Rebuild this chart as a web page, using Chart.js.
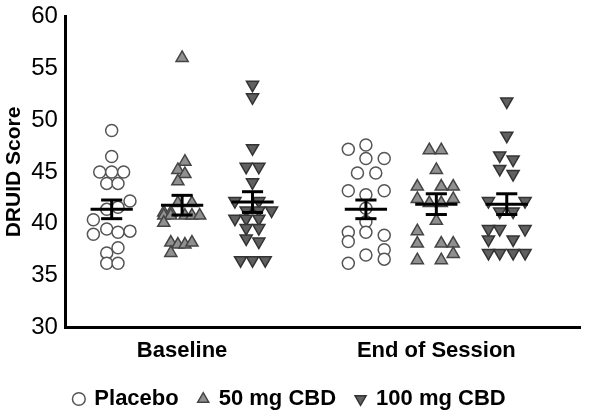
<!DOCTYPE html>
<html><head><meta charset="utf-8">
<script src="https://cdn.jsdelivr.net/npm/chart.js@4"></script>
<style>html,body{margin:0;padding:0;background:#fff}#w{width:594px;height:420px}</style>
</head><body><div id="w"><canvas id="c"></canvas></div>
<script>
const categories = ["Baseline", "End of Session"];
const categoryPos = [1.65, 5.26];
const groupOffset = [-1, 0, 1];
const seriesNames = ["Placebo", "50 mg CBD", "100 mg CBD"];
const yTicks = [30, 35, 40, 45, 50, 55, 60];

const placeboBase = [49.0,46.5,45.0,45.0,45.0,43.9,43.9,42.2,41.4,41.6,40.4,39.0,39.5,39.2,39.3,37.7,37.2,36.2,36.2];
const placeboBaseJ = [0,0,-0.17,0,0.17,-0.07,0.09,0.26,-0.07,0.09,-0.26,-0.26,-0.07,0.09,0.26,0.09,-0.07,-0.07,0.09];
const cbd50Base = [56.0,46.0,45.2,44.8,44.1,42.0,42.0,41.1,41.1,40.8,40.8,40.8,40.8,40.8,40.1,38.2,38.0,38.0,38.2,37.2];
const cbd50BaseJ = [0,0.04,-0.06,0.04,-0.06,-0.06,0.14,-0.26,-0.16,-0.26,-0.16,0.04,0.14,0.25,-0.26,-0.16,-0.06,0.04,0.14,-0.16];
const cbd100Base = [53.4,52.2,47.3,45.5,45.5,44.0,42.2,42.2,41.3,41.3,41.3,40.5,40.5,40.5,39.6,39.6,38.6,38.3,36.5,36.5,36.5];
const cbd100BaseJ = [0,0,0,-0.09,0.09,0,-0.25,0.09,-0.09,0.09,0.27,-0.25,-0.09,0.09,-0.09,0.09,-0.09,0.09,-0.17,0,0.18];
const placeboEnd = [47.2,47.6,46.3,46.3,44.9,44.9,43.2,42.8,43.2,41.5,40.2,39.2,39.2,38.9,38.3,37.0,37.5,36.6,36.2];
const placeboEndJ = [-0.25,0,0,0.26,-0.12,0.14,-0.25,0,0.26,0,0,-0.25,0,0.26,-0.25,0,0.26,0.26,-0.25];
const cbd50End = [47.1,47.1,45.2,43.6,43.6,43.6,42.4,42.4,42.0,42.0,40.3,39.3,38.1,38.1,38.1,37.1,36.5,36.5];
const cbd50EndJ = [-0.1,0.07,0,-0.27,0.07,0.24,-0.27,0.24,-0.1,0.07,0,-0.27,-0.27,0.07,0.24,0.24,-0.27,0.07];
const cbd100End = [51.8,48.5,46.6,46.2,45.3,44.8,42.2,42.2,41.2,41.2,39.5,39.5,39.5,38.5,38.5,37.2,37.2,37.2,37.2];
const cbd100EndJ = [0,0,-0.1,0.09,-0.1,0.09,-0.26,0.26,-0.1,0.09,-0.26,-0.1,0.26,-0.26,0.09,-0.26,-0.1,0.09,0.26];

const means = [[41.4, 41.8, 42.1], [41.4, 41.9, 41.9]];
const sems  = [[0.9, 0.95, 1.0], [0.9, 1.0, 1.0]];

const vals = [[placeboBase, cbd50Base, cbd100Base], [placeboEnd, cbd50End, cbd100End]];
const jits = [[placeboBaseJ, cbd50BaseJ, cbd100BaseJ], [placeboEndJ, cbd50EndJ, cbd100EndJ]];

const styles = [
  {pointStyle:'circle', backgroundColor:'#ffffff', borderColor:'#555', rotation:0, radius:6},
  {pointStyle:'triangle', backgroundColor:'#909090', borderColor:'#444', rotation:0, radius:7},
  {pointStyle:'triangle', backgroundColor:'#606060', borderColor:'#333', rotation:180, radius:7}
];

const datasets = seriesNames.map((name, s) => {
  const data = [];
  categories.forEach((c, ci) => {
    vals[ci][s].forEach((v, i) => data.push({x: categoryPos[ci] + groupOffset[s] + jits[ci][s][i], y: v}));
  });
  return {label: name, data, pointStyle: styles[s].pointStyle, backgroundColor: styles[s].backgroundColor,
    borderColor: styles[s].borderColor, borderWidth: 1.5, pointRadius: styles[s].radius, rotation: styles[s].rotation};
});

const errPlugin = {
  id: 'err',
  afterDatasetsDraw(chart) {
    const {ctx, scales: {x, y}} = chart;
    ctx.save(); ctx.strokeStyle = '#000'; ctx.lineWidth = 3;
    categories.forEach((c, ci) => {
      seriesNames.forEach((n, s) => {
        const cx = categoryPos[ci] + groupOffset[s];
        const m = means[ci][s], e = sems[ci][s];
        const line = (x1, x2, yy) => { ctx.beginPath(); ctx.moveTo(x.getPixelForValue(x1), y.getPixelForValue(yy)); ctx.lineTo(x.getPixelForValue(x2), y.getPixelForValue(yy)); ctx.stroke(); };
        line(cx - 0.3, cx + 0.3, m);
        line(cx - 0.15, cx + 0.15, m + e);
        line(cx - 0.15, cx + 0.15, m - e);
        ctx.beginPath(); ctx.moveTo(x.getPixelForValue(cx), y.getPixelForValue(m + e)); ctx.lineTo(x.getPixelForValue(cx), y.getPixelForValue(m - e)); ctx.stroke();
      });
    });
    ctx.restore();
  }
};

const F = 'Liberation Sans, Arial';
new Chart(document.getElementById('c'), {
  type: 'scatter',
  data: {datasets},
  plugins: [errPlugin],
  options: {
    responsive: true, maintainAspectRatio: false, animation: false,
    layout: {padding: {top: 2, right: 14, left: 0, bottom: 0}},
    plugins: {
      tooltip: {enabled: false},
      legend: {position: 'bottom', labels: {usePointStyle: true, boxWidth: 9, boxHeight: 9, padding: 20, color: '#000',
        font: {family: F, size: 22, weight: 'bold'}}}
    },
    scales: {
      x: {type: 'linear', min: 0, max: 7.3,
        afterBuildTicks: ax => { ax.ticks = categoryPos.map(v => ({value: v})); },
        ticks: {callback: (v, i) => categories[i], color: '#000', autoSkip: false, maxRotation: 0, padding: 4,
          font: {family: F, size: 22, weight: 'bold'}},
        grid: {display: false, drawTicks: true, tickLength: 6, tickColor: '#000', tickWidth: 2},
        border: {color: '#000', width: 3}},
      y: {min: 30, max: 60,
        afterBuildTicks: ax => { ax.ticks = yTicks.map(v => ({value: v})); },
        ticks: {color: '#000', font: {family: F, size: 24}, padding: 2},
        title: {display: true, text: 'DRUID Score', color: '#000', font: {family: F, size: 21, weight: 'bold'}, padding: 2},
        grid: {display: false, drawTicks: true, tickLength: 6, tickColor: '#000', tickWidth: 2},
        border: {color: '#000', width: 3}}
    }
  }
});
</script></body></html>
